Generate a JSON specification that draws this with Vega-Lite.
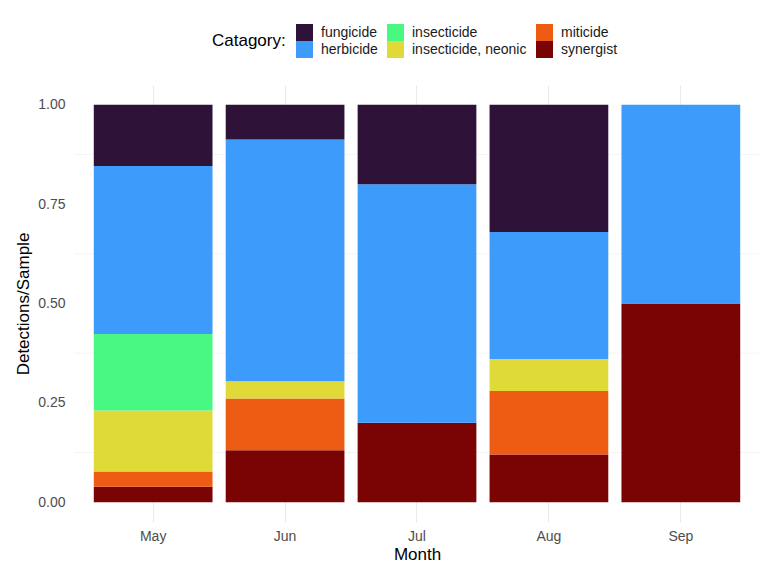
{
  "$schema": "https://vega.github.io/schema/vega-lite/v6.json",
  "autosize": {"type": "none"},
  "width": 686,
  "height": 437,
  "padding": {"left": 74, "top": 85, "right": 0, "bottom": 47},
  "background": "white",
  "config": {
    "font": "Liberation Sans",
    "view": {"stroke": null},
    "axis": {"domain": false, "ticks": false, "gridColor": "#EBEBEB", "gridWidth": 1.1, "labelColor": "#4D4D4D", "labelFontSize": 14, "titleFontSize": 17, "titleFontWeight": "normal", "titleColor": "#000000", "labelFont": "Liberation Sans", "titleFont": "Liberation Sans"}
  },
  "layer": [
    {
      "data": {"values": [{"minor": 0.125}, {"minor": 0.375}, {"minor": 0.625}, {"minor": 0.875}]},
      "mark": {"type": "rule", "color": "#EBEBEB", "strokeWidth": 0.55},
      "encoding": {
        "y": {"field": "minor", "type": "quantitative", "scale": {"domain": [-0.05, 1.05], "nice": false, "zero": false}, "axis": null}
      }
    },
    {
      "data": {"values": [
        {"Month": "May", "Category": "synergist", "Share": 0.0385},
        {"Month": "May", "Category": "miticide", "Share": 0.0385},
        {"Month": "May", "Category": "insecticide, neonic", "Share": 0.1538},
        {"Month": "May", "Category": "insecticide", "Share": 0.1923},
        {"Month": "May", "Category": "herbicide", "Share": 0.4231},
        {"Month": "May", "Category": "fungicide", "Share": 0.1538},
        {"Month": "Jun", "Category": "synergist", "Share": 0.1304},
        {"Month": "Jun", "Category": "miticide", "Share": 0.1304},
        {"Month": "Jun", "Category": "insecticide, neonic", "Share": 0.0435},
        {"Month": "Jun", "Category": "herbicide", "Share": 0.6087},
        {"Month": "Jun", "Category": "fungicide", "Share": 0.087},
        {"Month": "Jul", "Category": "synergist", "Share": 0.2},
        {"Month": "Jul", "Category": "herbicide", "Share": 0.6},
        {"Month": "Jul", "Category": "fungicide", "Share": 0.2},
        {"Month": "Aug", "Category": "synergist", "Share": 0.12},
        {"Month": "Aug", "Category": "miticide", "Share": 0.16},
        {"Month": "Aug", "Category": "insecticide, neonic", "Share": 0.08},
        {"Month": "Aug", "Category": "herbicide", "Share": 0.32},
        {"Month": "Aug", "Category": "fungicide", "Share": 0.32},
        {"Month": "Sep", "Category": "synergist", "Share": 0.5},
        {"Month": "Sep", "Category": "herbicide", "Share": 0.5}
      ]},
      "mark": {"type": "bar"},
      "encoding": {
        "x": {"field": "Month", "type": "nominal", "sort": ["May", "Jun", "Jul", "Aug", "Sep"],
          "scale": {"paddingInner": 0.1, "paddingOuter": 0.15},
          "axis": {"title": "Month", "labelAngle": 0, "grid": true, "bandPosition": 0.5, "labelPadding": 7, "titlePadding": 3}},
        "y": {"field": "Share", "type": "quantitative", "stack": true,
          "scale": {"domain": [-0.05, 1.05], "nice": false, "zero": false},
          "axis": {"title": "Detections/Sample", "values": [0, 0.25, 0.5, 0.75, 1], "format": ".2f", "labelPadding": 9, "titlePadding": 5}},
        "color": {"field": "Category", "type": "nominal",
          "scale": {"domain": ["fungicide", "insecticide", "miticide", "herbicide", "insecticide, neonic", "synergist"],
                    "range": ["#2F1238", "#48F882", "#EE5B13", "#3D9CFB", "#E0DA38", "#7A0403"]},
          "legend": {"title": "Catagory:", "orient": "none", "legendX": 138, "legendY": -61, "direction": "horizontal", "columns": 3,
            "titleOrient": "left", "titleFontSize": 17, "titleFontWeight": "normal", "titleColor": "#000000", "titlePadding": 10, "titleBaseline": "middle", "titleAnchor": "middle",
            "labelFontSize": 14, "labelColor": "#1A1A1A", "labelOffset": 8, "labelLimit": 300,
            "symbolType": "square", "symbolSize": 289, "symbolStrokeWidth": 0, "symbolOpacity": 1,
            "rowPadding": 0, "columnPadding": 9}},
        "order": {"field": "Category", "sort": "descending"}
      }
    }
  ],
  "resolve": {"axis": {"y": "independent"}}
}
